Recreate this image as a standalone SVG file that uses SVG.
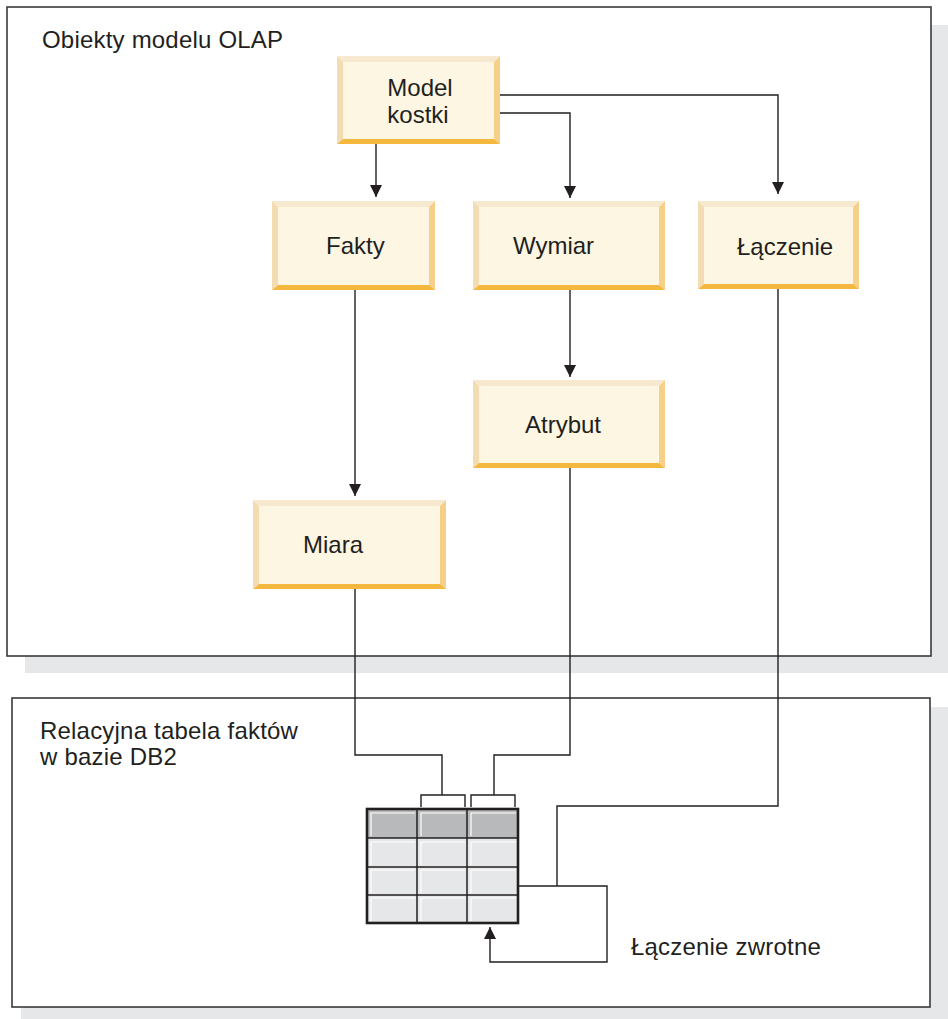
<svg xmlns="http://www.w3.org/2000/svg" width="948" height="1019" viewBox="0 0 948 1019">
<style>
text{font-family:"Liberation Sans",Arial,sans-serif;font-size:24px;fill:#231f20}
.lbl{letter-spacing:0.2px}
.panel{fill:#ffffff;stroke:#3a3a3c;stroke-width:1.6}
.shadow{fill:#e6e7e8}
.face{fill:#fdf6e3}
.bt{fill:#f6e9d0}
.bl{fill:#f4dcb2}
.br{fill:#f6cf88}
.bb{fill:#f5b83f}
.conn{fill:none;stroke:#231f20;stroke-width:1.4}
.hdr{fill:#b8b9bb}
.cell{fill:#e6e7e8}
.hl{fill:none;stroke:#ffffff;stroke-width:1.2}
.grid{stroke:#231f20;stroke-width:1.5}
</style>
<defs>
<marker id="arr" viewBox="0 0 10 10" refX="10" refY="5" markerUnits="userSpaceOnUse" markerWidth="12" markerHeight="12" orient="auto">
<path d="M0,0 L10,5 L0,10 z" fill="#231f20"/>
</marker>
</defs>

<g id="panel-olap">
<rect class="shadow" x="25" y="25" width="923" height="648"/>
<rect class="panel" x="7" y="7" width="924" height="649"/>
<text class="lbl" x="42" y="48">Obiekty modelu OLAP</text>
</g>

<g id="panel-db2">
<rect class="shadow" x="21" y="707" width="927" height="312"/>
<rect class="panel" x="12" y="698" width="918" height="309"/>
<text class="lbl" x="40" y="739">Relacyjna tabela faktów</text>
<text class="lbl" x="40" y="765">w bazie DB2</text>
</g>

<g id="node-model">
<rect class="face" x="343" y="62" width="151" height="77"/>
<polygon class="bt" points="337,56 500,56 494,62 343,62"/>
<polygon class="bl" points="337,56 343,62 343,139 337,144"/>
<polygon class="br" points="500,56 500,144 494,139 494,62"/>
<polygon class="bb" points="337,144 343,139 494,139 500,144"/>
<text x="420" y="96" text-anchor="middle">Model</text>
<text x="418" y="123" text-anchor="middle">kostki</text>
</g>

<g id="node-fakty">
<rect class="face" x="278" y="207" width="151" height="78"/>
<polygon class="bt" points="272,201 435,201 429,207 278,207"/>
<polygon class="bl" points="272,201 278,207 278,285 272,290"/>
<polygon class="br" points="435,201 435,290 429,285 429,207"/>
<polygon class="bb" points="272,290 278,285 429,285 435,290"/>
<text x="326" y="254">Fakty</text>
</g>

<g id="node-wymiar">
<rect class="face" x="479" y="207" width="180" height="78"/>
<polygon class="bt" points="473,201 665,201 659,207 479,207"/>
<polygon class="bl" points="473,201 479,207 479,285 473,290"/>
<polygon class="br" points="665,201 665,290 659,285 659,207"/>
<polygon class="bb" points="473,290 479,285 659,285 665,290"/>
<text x="513" y="254">Wymiar</text>
</g>

<g id="node-laczenie">
<rect class="face" x="704" y="207" width="149" height="77"/>
<polygon class="bt" points="698,201 859,201 853,207 704,207"/>
<polygon class="bl" points="698,201 704,207 704,284 698,289"/>
<polygon class="br" points="859,201 859,289 853,284 853,207"/>
<polygon class="bb" points="698,289 704,284 853,284 859,289"/>
<text x="737" y="255">Łączenie</text>
</g>

<g id="node-atrybut">
<rect class="face" x="479" y="386" width="180" height="77"/>
<polygon class="bt" points="473,380 665,380 659,386 479,386"/>
<polygon class="bl" points="473,380 479,386 479,463 473,468"/>
<polygon class="br" points="665,380 665,468 659,463 659,386"/>
<polygon class="bb" points="473,468 479,463 659,463 665,468"/>
<text x="525" y="433">Atrybut</text>
</g>

<g id="node-miara">
<rect class="face" x="259" y="506" width="181" height="78"/>
<polygon class="bt" points="253,500 446,500 440,506 259,506"/>
<polygon class="bl" points="253,500 259,506 259,584 253,589"/>
<polygon class="br" points="446,500 446,589 440,584 440,506"/>
<polygon class="bb" points="253,589 259,584 440,584 446,589"/>
<text x="303" y="553">Miara</text>
</g>

<g id="node-table">
<rect class="hdr" x="367" y="809" width="151" height="29"/>
<rect class="cell" x="367" y="838" width="151" height="85"/>
<polyline class="hl" points="371,836 371,813 415,813"/>
<polyline class="hl" points="421,836 421,813 465,813"/>
<polyline class="hl" points="471,836 471,813 516,813"/>
<polyline class="hl" points="371,865 371,842 415,842"/>
<polyline class="hl" points="421,865 421,842 465,842"/>
<polyline class="hl" points="471,865 471,842 516,842"/>
<polyline class="hl" points="371,893 371,870 415,870"/>
<polyline class="hl" points="421,893 421,870 465,870"/>
<polyline class="hl" points="471,893 471,870 516,870"/>
<polyline class="hl" points="371,921 371,898 415,898"/>
<polyline class="hl" points="421,921 421,898 465,898"/>
<polyline class="hl" points="471,921 471,898 516,898"/>
<line class="grid" x1="367" y1="838" x2="518" y2="838"/>
<line class="grid" x1="367" y1="867" x2="518" y2="867" stroke="#4d4d4f"/>
<line class="grid" x1="367" y1="895" x2="518" y2="895" stroke="#4d4d4f"/>
<line class="grid" x1="417" y1="809" x2="417" y2="923"/>
<line class="grid" x1="467" y1="809" x2="467" y2="923"/>
<rect x="367" y="809" width="151" height="114" fill="none" stroke="#231f20" stroke-width="2.6"/>
<polyline class="conn" points="421,807 421,795 465,795 465,807"/>
<polyline class="conn" points="471,807 471,795 515,795 515,807"/>
<text class="lbl" x="631" y="955">Łączenie zwrotne</text>
</g>

<g id="connectors">
<polyline class="conn" points="376,144 376,197" marker-end="url(#arr)"/>
<polyline class="conn" points="500,113 570,113 570,198" marker-end="url(#arr)"/>
<polyline class="conn" points="500,95 778,95 778,194" marker-end="url(#arr)"/>
<polyline class="conn" points="355,290 355,496" marker-end="url(#arr)"/>
<polyline class="conn" points="570,290 570,377" marker-end="url(#arr)"/>
<polyline class="conn" points="355,589 355,755 442,755 442,795"/>
<polyline class="conn" points="570,468 570,755 494,755 494,795"/>
<polyline class="conn" points="778,289 778,806 557,806 557,886"/>
<polyline class="conn" points="518,886 607,886 607,962 490,962 490,927" marker-end="url(#arr)"/>
</g>
</svg>
